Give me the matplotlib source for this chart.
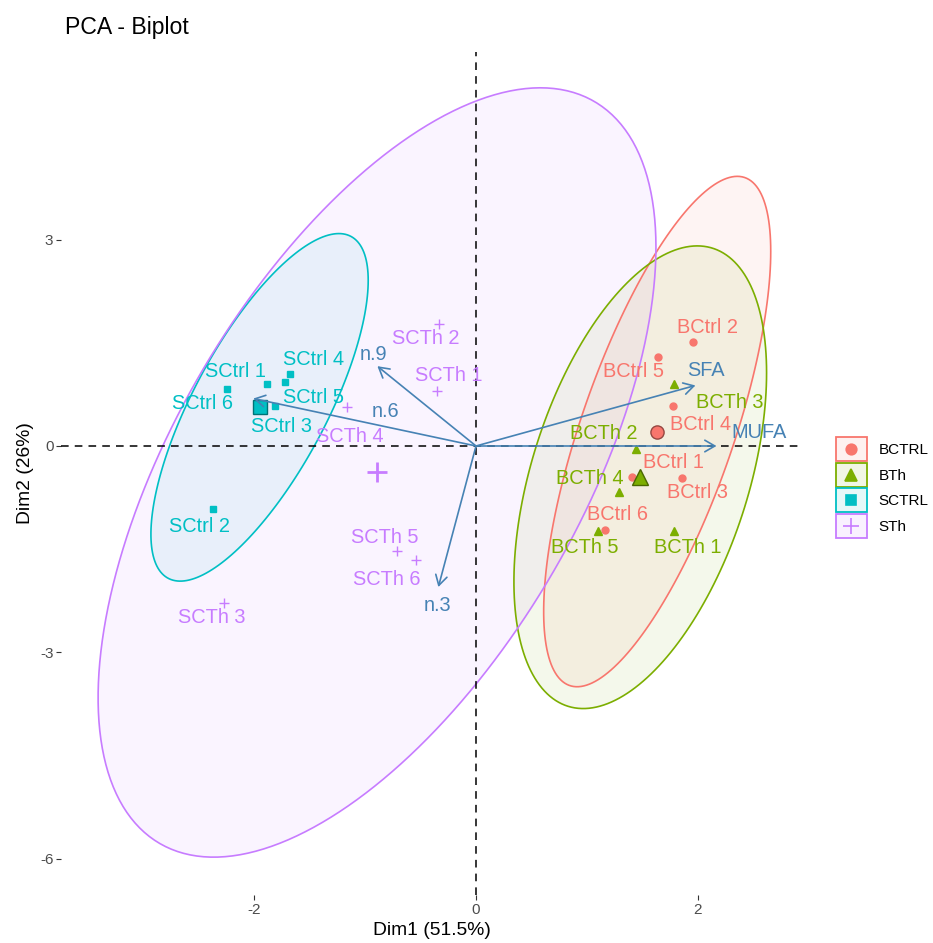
import numpy as np
import matplotlib
matplotlib.use("Agg")
import matplotlib.pyplot as plt
from matplotlib.legend_handler import HandlerBase
from matplotlib.patches import Rectangle, Polygon
from matplotlib.lines import Line2D

plt.rcParams["font.family"] = ["Liberation Sans", "DejaVu Sans"]
plt.rcParams["axes.unicode_minus"] = False

# groups and their ggplot hue colours / shapes
groups = ["BCTRL", "BTh", "SCTRL", "STh"]
group_colors = ["#F8766D", "#7CAE00", "#00BFC4", "#C77CFF"]
group_markers = ["o", "^", "s", "+"]

# individuals (coordinates)
ind_names = ["BCtrl 1", "BCtrl 2", "BCtrl 3", "BCtrl 4", "BCtrl 5", "BCtrl 6",
             "BCTh 1", "BCTh 2", "BCTh 3", "BCTh 4", "BCTh 5",
             "SCtrl 1", "SCtrl 2", "SCtrl 3", "SCtrl 4", "SCtrl 5", "SCtrl 6",
             "SCTh 1", "SCTh 2", "SCTh 3", "SCTh 4", "SCTh 5", "SCTh 6"]
ind_group = ["BCTRL"] * 6 + ["BTh"] * 5 + ["SCTRL"] * 6 + ["STh"] * 6
ind_x = [1.41, 1.96, 1.86, 1.78, 1.64, 1.16,
         1.79, 1.44, 1.79, 1.29, 1.10,
         -1.89, -2.37, -1.81, -1.68, -1.72, -2.25,
         -0.35, -0.33, -2.27, -1.16, -0.71, -0.54]
ind_y = [-0.45, 1.51, -0.46, 0.58, 1.30, -1.22,
         -1.23, -0.04, 0.90, -0.67, -1.23,
         0.90, -0.92, 0.58, 1.05, 0.93, 0.83,
         0.80, 1.78, -2.28, 0.57, -1.53, -1.65]

# label offsets in pixels (repelled labels)
lab_dx = [41, 14, 15, 27, -24, 13,
          13, -32, 55, -29, -13,
          -31, -14, 6, 24, 28, -24,
          12, -14, -13, 2, -13, -29]
lab_dy = [14, 15, -15, -18, -15, 15,
          -17, 15, -18, 14, -17,
          13, -17, -20, 14, -15, -15,
          15, -15, -15, -30, 14, -20]

# variables (arrows)
var_names = ["n.9", "n.6", "n.3", "SFA", "MUFA"]
var_x = [-0.89, -2.01, -0.34, 1.98, 2.17]
var_y = [1.16, 0.69, -2.05, 0.88, 0.0]
var_dx = [-4, 132, -1, 11, 43]
var_dy = [12, -13, -18, 15, 13]
var_color = "#4682B4"


def norm_ellipse(x, y, level=0.95, n=200):
    # same as stat_ellipse(type = "norm")
    pts = np.column_stack([x, y])
    center = pts.mean(axis=0)
    cov = np.cov(pts.T)
    dfd = len(x) - 1
    qf = dfd / 2 * ((1 - level) ** (-2 / dfd) - 1)
    radius = np.sqrt(2 * qf)
    t = np.linspace(0, 2 * np.pi, n)
    circle = np.column_stack([np.cos(t), np.sin(t)])
    L = np.linalg.cholesky(cov)
    return center + radius * circle @ L.T


class GroupKey:
    def __init__(self, color, marker, size):
        self.color = color
        self.marker = marker
        self.size = size


class KeyHandler(HandlerBase):
    def create_artists(self, legend, orig_handle, xdescent, ydescent,
                       width, height, fontsize, trans):
        box = Rectangle((-xdescent, -ydescent), width, height,
                        facecolor=orig_handle.color, alpha=0.1,
                        edgecolor="none", transform=trans)
        edge = Rectangle((-xdescent, -ydescent), width, height,
                         facecolor="none", edgecolor=orig_handle.color,
                         lw=1.3, transform=trans)
        mk = Line2D([width / 2 - xdescent], [height / 2 - ydescent],
                    marker=orig_handle.marker, color=orig_handle.color,
                    markersize=orig_handle.size, mew=1.2, linestyle="none",
                    transform=trans)
        return [box, edge, mk]


fig = plt.figure(figsize=(9.33, 9.43), dpi=100)
ax = fig.add_axes([0.0654, 0.0509, 0.7953, 0.894])

ind_x = np.array(ind_x)
ind_y = np.array(ind_y)
ind_group = np.array(ind_group)

small_sizes = {"o": 5, "^": 5.5, "s": 4.3, "+": 6.5}
big_sizes = {"o": 9.5, "^": 11, "s": 9.5, "+": 14}

for g, col, mk in zip(groups, group_colors, group_markers):
    m = ind_group == g
    xs, ys = ind_x[m], ind_y[m]
    ell = norm_ellipse(xs, ys)
    ax.add_patch(Polygon(ell, closed=True, facecolor=col, alpha=0.08,
                         edgecolor="none", zorder=1))
    ax.add_patch(Polygon(ell, closed=True, facecolor="none", edgecolor=col,
                         lw=1.2, zorder=1.2))
    ax.plot(xs, ys, linestyle="none", marker=mk, color=col,
            markersize=small_sizes[mk], mew=1.0, zorder=3)
    dark = tuple(c * 0.6 for c in matplotlib.colors.to_rgb(col))
    ax.plot([xs.mean()], [ys.mean()], linestyle="none", marker=mk,
            markerfacecolor=col, markeredgecolor=dark if mk != "+" else col,
            markersize=big_sizes[mk], mew=1.0 if mk != "+" else 2.0, zorder=3.5)

col_of = dict(zip(groups, group_colors))
for name, x, y, g, dx, dy in zip(ind_names, ind_x, ind_y, ind_group, lab_dx, lab_dy):
    ax.annotate(name, (x, y), xytext=(dx, dy), textcoords="offset pixels",
                ha="center", va="center", fontsize=14.4, color=col_of[g], zorder=4)

ax.axhline(0, color="black", lw=1.1, linestyle=(0, (5, 4)), zorder=2)
ax.axvline(0, color="black", lw=1.1, linestyle=(0, (5, 4)), zorder=2)

for name, x, y, dx, dy in zip(var_names, var_x, var_y, var_dx, var_dy):
    ax.annotate("", xy=(x, y), xytext=(0, 0),
                arrowprops=dict(arrowstyle="->,head_length=0.45,head_width=0.26",
                                color=var_color, lw=1.2, shrinkA=0, shrinkB=0,
                                mutation_scale=16), zorder=5)
    ax.annotate(name, (x, y), xytext=(dx, dy), textcoords="offset pixels",
                ha="center", va="center", fontsize=14.4, color=var_color, zorder=5)

ax.set_xlim(-3.745, 2.951)
ax.set_ylim(-6.526, 5.727)
ax.set_xticks([-2, 0, 2])
ax.set_yticks([-6, -3, 0, 3])
ax.tick_params(length=3.5, width=0.8, color="#333333", labelcolor="#4D4D4D",
               labelsize=11, pad=2)
for s in ax.spines.values():
    s.set_visible(False)

ax.set_xlabel("Dim1 (51.5%)", fontsize=13.9, labelpad=4)
ax.set_ylabel("Dim2 (26%)", fontsize=13.9, labelpad=4)
fig.text(65 / 933, 1 - 34 / 943, "PCA - Biplot", fontsize=16.6, ha="left", va="baseline")

handles = [GroupKey(c, mk, big_sizes[mk] * 0.8) for c, mk in zip(group_colors, group_markers)]
fig.legend(handles, groups, handler_map={GroupKey: KeyHandler()},
           loc="center left", bbox_to_anchor=(836 / 933, 1 - 487.5 / 943),
           frameon=False, fontsize=11, handlelength=2.0, handleheight=2.0,
           labelspacing=0.13, handletextpad=0.8, borderpad=0, borderaxespad=0)

fig.savefig("out.png", dpi=100)
